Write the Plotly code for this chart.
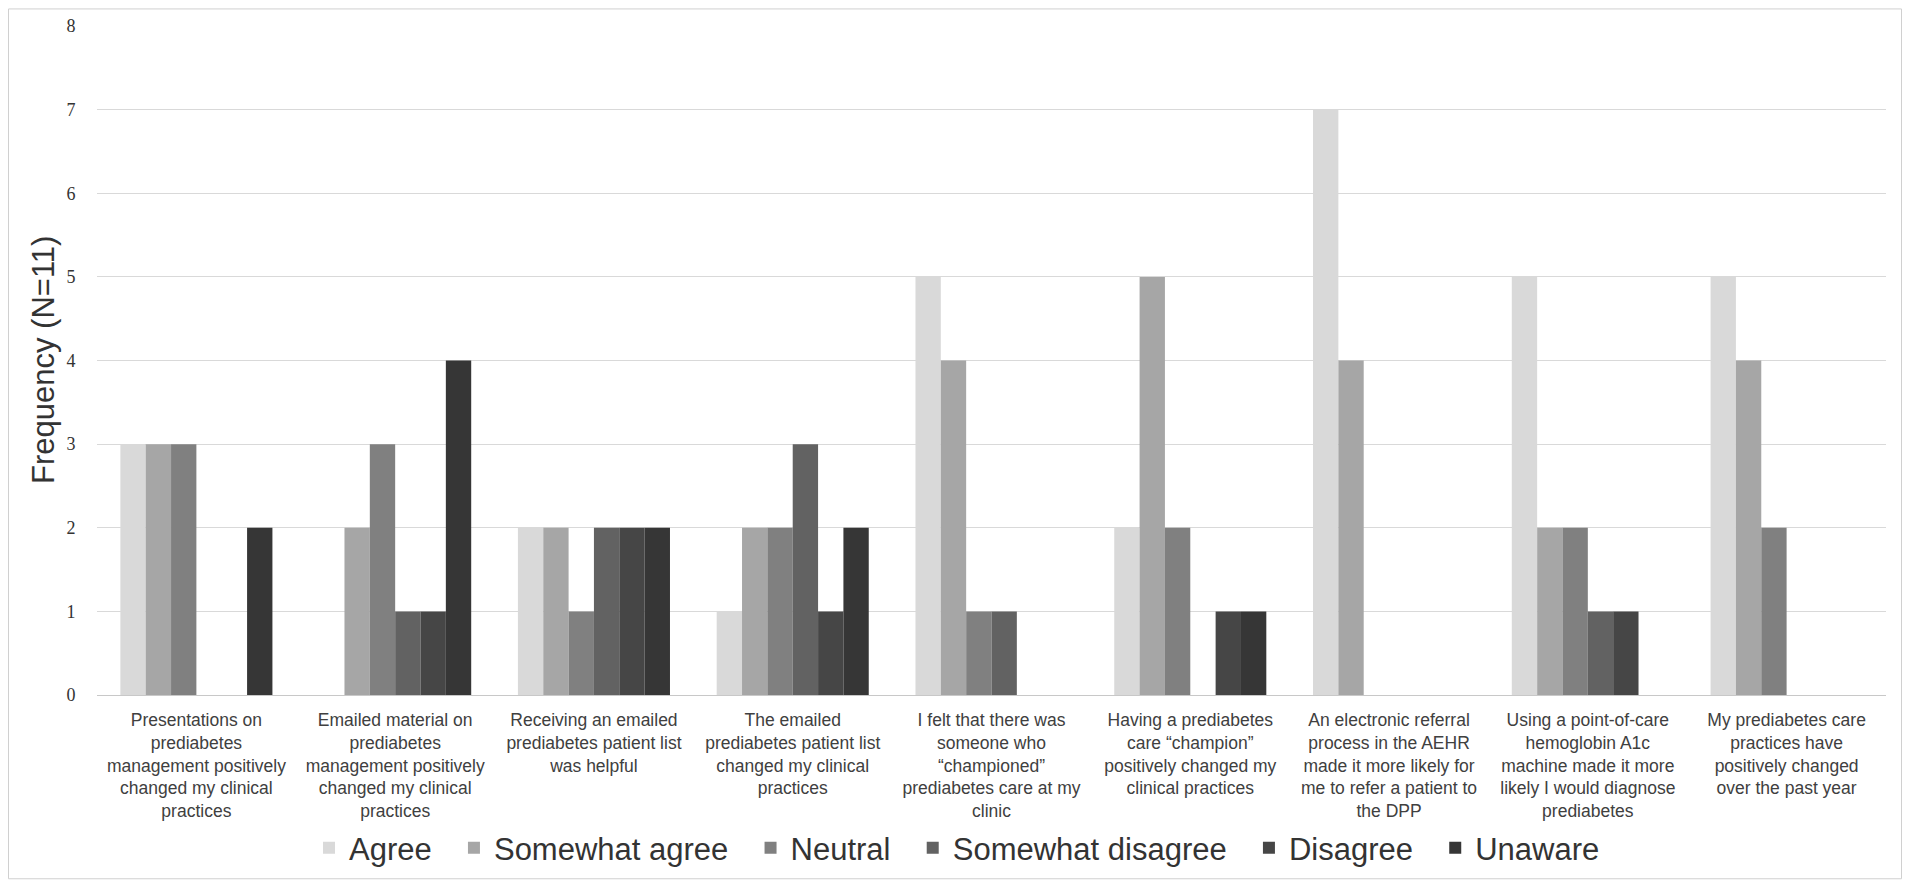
import plotly.graph_objects as go

categories = [
    "Presentations on<br>prediabetes<br>management positively<br>changed my clinical<br>practices",
    "Emailed material on<br>prediabetes<br>management positively<br>changed my clinical<br>practices",
    "Receiving an emailed<br>prediabetes patient list<br>was helpful",
    "The emailed<br>prediabetes patient list<br>changed my clinical<br>practices",
    "I felt that there was<br>someone who<br>“championed”<br>prediabetes care at my<br>clinic",
    "Having a prediabetes<br>care “champion”<br>positively changed my<br>clinical practices",
    "An electronic referral<br>process in the AEHR<br>made it more likely for<br>me to refer a patient to<br>the DPP",
    "Using a point-of-care<br>hemoglobin A1c<br>machine made it more<br>likely I would diagnose<br>prediabetes",
    "My prediabetes care<br>practices have<br>positively changed<br>over the past year",
]

series_names = ["Agree", "Somewhat agree", "Neutral", "Somewhat disagree", "Disagree", "Unaware"]
agree = [3, 0, 2, 1, 5, 2, 7, 5, 5]
somewhat_agree = [3, 2, 2, 2, 4, 5, 4, 2, 4]
neutral = [3, 3, 1, 2, 1, 2, 0, 2, 2]
somewhat_disagree = [0, 1, 2, 3, 1, 0, 0, 1, 0]
disagree = [0, 1, 2, 1, 0, 1, 0, 1, 0]
unaware = [2, 4, 2, 2, 0, 1, 0, 0, 0]
series_values = [agree, somewhat_agree, neutral, somewhat_disagree, disagree, unaware]
colors = ["#d9d9d9", "#a6a6a6", "#808080", "#626262", "#464646", "#363636"]
y_ticks = [0, 1, 2, 3, 4, 5, 6, 7, 8]
y_title = "Frequency (N=11)"

sans = "Liberation Sans, Arial, sans-serif"
serif = "Liberation Serif, Times New Roman, serif"
pad = "\u00a0\u00a0"  # extra spacing after each legend entry, as in the reference

fig = go.Figure()
for i, (name, vals, col) in enumerate(zip(series_names, series_values, colors)):
    label = name + (pad if i < len(series_names) - 1 else "")
    fig.add_trace(go.Bar(name=label, x=categories, y=vals,
                         marker=dict(color=col, line=dict(width=0))))

# page has an 8px body margin; figure coordinates = page coordinates - 8
W, H = 1894, 872
ml, mr, mt, mb = 89, 16, 17.6, 184.5
pw = W - ml - mr
ph = H - mt - mb

def px_x(p):
    return (p - ml) / pw

def px_y(p):
    return (H - mb - p) / ph

fig.update_layout(
    width=W, height=H,
    margin=dict(l=ml, r=mr, t=mt, b=mb, autoexpand=False),
    barmode="group", bargap=0.235, bargroupgap=0,
    plot_bgcolor="white", paper_bgcolor="white",
    legend=dict(orientation="h", x=px_x(949), xanchor="center", y=-0.229, yanchor="middle",
                font=dict(family=sans, size=31, color="#333333"),
                bgcolor="rgba(0,0,0,0)", traceorder="normal"),
    xaxis=dict(tickfont=dict(family=sans, size=17.5, color="#404040"), showgrid=False,
               showline=True, linecolor="#c8c8c8", linewidth=1, ticks="outside", ticklen=9,
               tickcolor="rgba(0,0,0,0)"),
    yaxis=dict(range=[0, 8], tickvals=y_ticks, showgrid=True, gridcolor="#d9d9d9", gridwidth=1,
               zeroline=False, showline=False,
               tickfont=dict(family=serif, size=18, color="#333333"),
               ticks="outside", ticklen=17, tickcolor="rgba(0,0,0,0)"),
)

fig.add_annotation(x=px_x(35.5), y=0.5, xref="paper", yref="paper", text=y_title,
                   textangle=-90, showarrow=False, xanchor="center", yanchor="middle",
                   font=dict(family=sans, size=31, color="#333333"))

fig.add_shape(type="rect", xref="paper", yref="paper",
              x0=px_x(0.5), x1=px_x(W - 0.5), y0=px_y(H - 0.5), y1=px_y(0.5),
              line=dict(color="#d0d0d0", width=1), fillcolor="rgba(0,0,0,0)", layer="below")

fig.write_html("out.html")
